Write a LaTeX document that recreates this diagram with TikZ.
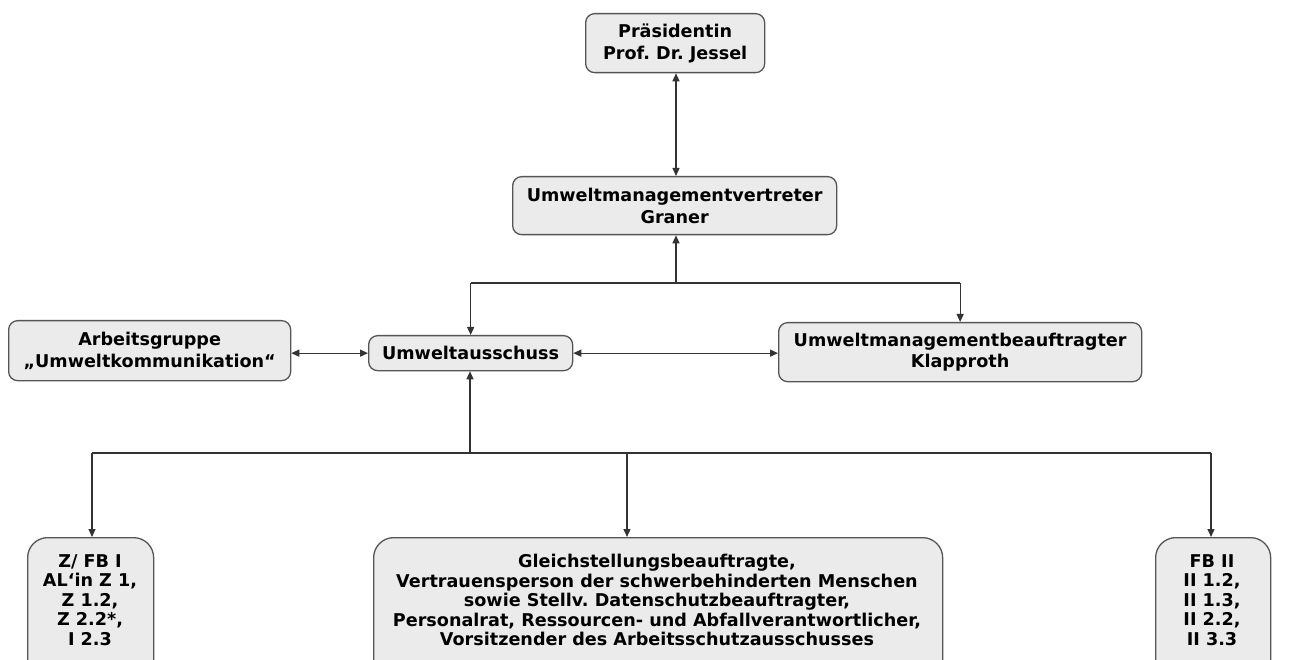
\documentclass[tikz,border=0pt]{standalone}
\usepackage{fontspec}
\setmainfont{DejaVu Sans}
\usetikzlibrary{arrows.meta,positioning}
\definecolor{boxfill}{HTML}{EBEBEB}
\definecolor{boxline}{HTML}{555555}
\definecolor{conn}{HTML}{333333}
\frenchspacing
\tikzset{txt/.style={font=\frenchspacing\fontsize{17.6}{19.6}\selectfont\bfseries,align=center,inner sep=0pt},
  txtwide/.style={font=\frenchspacing\fontsize{17.6}{21.8}\selectfont\bfseries}}
\begin{document}
\begin{tikzpicture}[x=1pt,y=-1pt,
  box/.style={draw=boxline,line width=1.3pt,fill=boxfill,rounded corners=9pt,
    txt,txtwide,anchor=north west},
  bigbox/.style={box,rounded corners=20pt},
  tip/.tip={Triangle[length=8pt,width=7pt]},
  link/.style={draw=conn,line width=1.2pt,-tip},
  dlink/.style={draw=conn,line width=1.2pt,tip-tip},
  line/.style={draw=conn,line width=1.2pt}]
\clip (0,0) rectangle (1296,660);
\fill[white] (0,0) rectangle (1296,660);

\node[box,minimum width=179pt,minimum height=59pt] (praes) at (585,13) {Präsidentin\\Prof. Dr. Jessel};
\node[box,minimum width=324pt,minimum height=58pt] (umv) at (512,176) {Umweltmanagementvertreter\\Graner};
\node[box,minimum width=282pt,minimum height=60pt] (ag) at (8,320) {Arbeitsgruppe\\„Umweltkommunikation“};
\node[box,minimum width=204pt,minimum height=35pt] (ua) at (368,335) {Umweltausschuss};
\node[box,minimum width=363pt,minimum height=59pt] (umb) at (778,322) {Umweltmanagementbeauftragter\\Klapproth};

\node[bigbox,minimum width=126pt,minimum height=150pt] (z) at (27,537) {};
\node[txt,anchor=north] (zt) at (90,554) {Z/ FB I\\AL‘in Z 1,\\Z 1.2,\\Z 2.2*,\\I 2.3};
\node[bigbox,minimum width=569pt,minimum height=150pt] (mid) at (373,537) {};
\node[txt,anchor=north] (midt) at (657,554) {Gleichstellungsbeauftragte,\\Vertrauensperson der schwerbehinderten Menschen\\sowie Stellv. Datenschutzbeauftragter,\\Personalrat, Ressourcen- und Abfallverantwortlicher,\\Vorsitzender des Arbeitsschutzausschusses};
\node[bigbox,minimum width=115pt,minimum height=150pt] (fb) at (1155,537) {};
\node[txt,anchor=north] (fbt) at (1212,554) {FB II\\II 1.2,\\II 1.3,\\II 2.2,\\II 3.3};

\coordinate (j1) at (676,283);
\coordinate (j2) at (470,453);

\draw[dlink] (praes.south -| j1) -- (umv.north -| j1);
\draw[link] (j1) -- (umv.south -| j1);
\draw[line] (j1) -- (j1 -| ua.north);
\draw[line] (j1) -- (j1 -| umb.north);
\draw[link] (j1 -| ua.north) -- (ua.north);
\draw[link] (j1 -| umb.north) -- (umb.north);
\draw[dlink] (ag.east |- ua.west) -- (ua.west);
\draw[dlink] (ua.east) -- (umb.west |- ua.east);
\draw[link] (j2) -- (j2 |- ua.south);
\coordinate (zx) at (92,453);
\coordinate (mx) at (627,453);
\coordinate (fx) at (1211,453);
\draw[line] (zx) -- (fx);
\draw[link] (zx) -- (zx |- z.north);
\draw[link] (mx) -- (mx |- mid.north);
\draw[link] (fx) -- (fx |- fb.north);
\end{tikzpicture}
\end{document}
